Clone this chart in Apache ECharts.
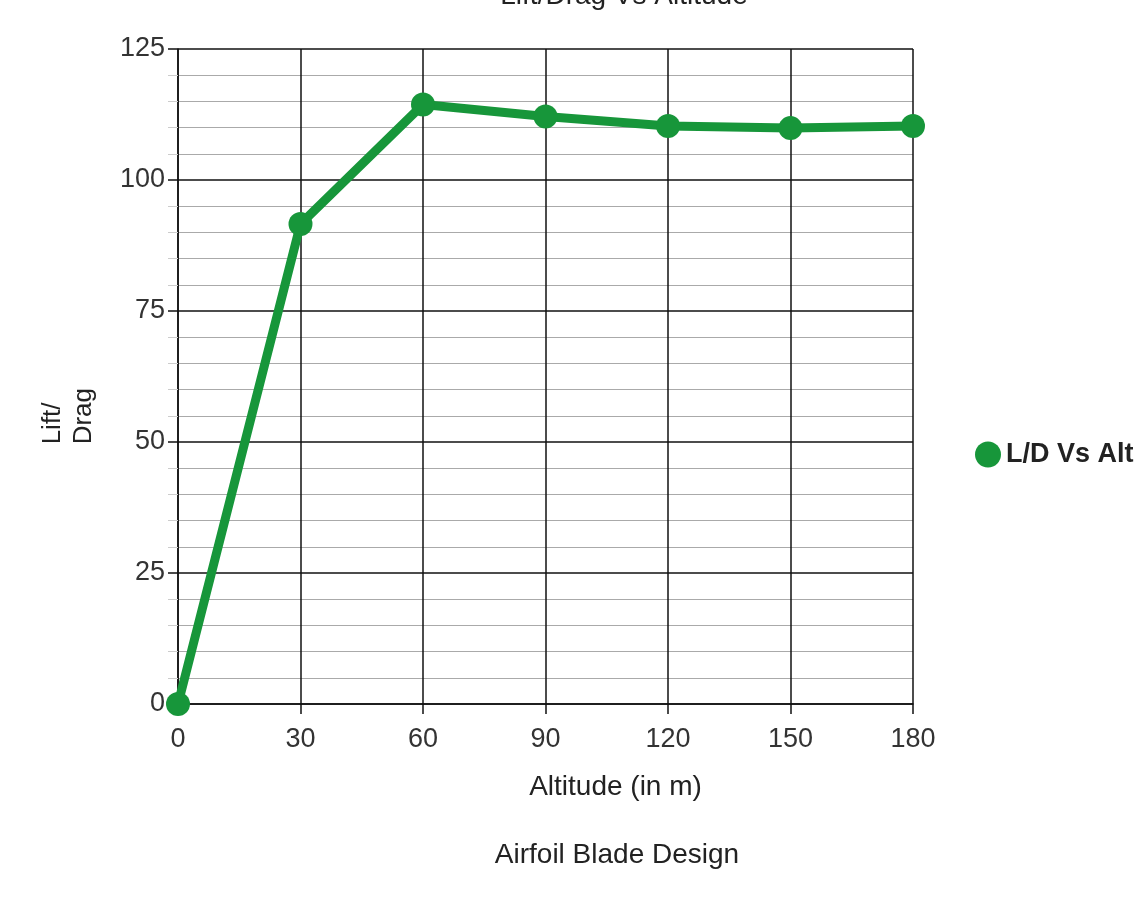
<!DOCTYPE html>
<html>
<head>
<meta charset="utf-8">
<script src="https://cdn.jsdelivr.net/npm/echarts@6/dist/echarts.min.js"></script>
<style>html,body{margin:0;padding:0;background:#fff;}#c{width:1136px;height:897px;}</style>
</head>
<body>
<div id="c"></div>
<script>
const altitudes = [0, 30, 60, 90, 120, 150, 180];
const liftDrag = [0, 91.6, 114.4, 112.1, 110.3, 109.9, 110.3];
const seriesName = 'L/D Vs Alt';
const chartTitle = 'Lift/Drag Vs Altitude';
const subTitle = 'Airfoil Blade Design';
const xName = 'Altitude (in m)';
const yName = 'Lift/\nDrag';

const FONT = 'Liberation Sans, Arial, sans-serif';
const green = '#17963a';
const chart = echarts.init(document.getElementById('c'));
chart.setOption({
  backgroundColor: '#fff',
  animation: false,
  title: [
    { text: chartTitle, left: 619, top: -23, textAlign: 'center',
      textStyle: { fontFamily: FONT, fontSize: 28, fontWeight: 'normal', color: '#222' } },
    { text: subTitle, left: 612, top: 836, textAlign: 'center',
      textStyle: { fontFamily: FONT, fontSize: 28, fontWeight: 'normal', color: '#222' } }
  ],
  legend: {
    data: [{ name: seriesName, icon: 'circle' }],
    left: 970, top: 436, itemWidth: 26, itemHeight: 26, itemGap: 6,
    textStyle: { fontFamily: FONT, fontSize: 27, fontWeight: 'bold', color: '#222' }
  },
  graphic: [{
    type: 'text', left: 37, top: 388, rotation: Math.PI / 2,
    style: { text: yName, font: 'normal 26px Liberation Sans, Arial, sans-serif', fill: '#222',
      textAlign: 'left', lineHeight: 31 }
  }],
  grid: { left: 178, right: 223, top: 49, bottom: 193, containLabel: false },
  xAxis: {
    type: 'value', min: 0, max: 180, interval: 30,
    name: xName, nameLocation: 'middle', nameGap: 69,
    nameTextStyle: { fontFamily: FONT, fontSize: 28, color: '#222', padding: [0, 0, 0, 140] },
    axisLine: { show: true, lineStyle: { color: '#111', width: 1.5 } },
    axisTick: { show: true, length: 10, lineStyle: { color: '#111', width: 1.5 } },
    axisLabel: { fontFamily: FONT, fontSize: 27, color: '#333', margin: 22 },
    splitLine: { show: true, lineStyle: { color: '#111', width: 1.5 } }
  },
  yAxis: {
    type: 'value', min: 0, max: 125, interval: 25,
    axisLine: { show: true, lineStyle: { color: '#111', width: 1.5 } },
    axisTick: { show: true, length: 10, lineStyle: { color: '#111', width: 1.5 } },
    minorTick: { show: true, splitNumber: 5, length: 10, lineStyle: { color: '#ccc', width: 1 } },
    axisLabel: { fontFamily: FONT, fontSize: 27, color: '#333', margin: 13 },
    splitLine: { show: true, lineStyle: { color: '#111', width: 1.5 } },
    minorSplitLine: { show: true, lineStyle: { color: '#aaa', width: 1 } }
  },
  series: [{
    name: seriesName, type: 'line',
    data: altitudes.map((a, i) => [a, liftDrag[i]]),
    symbol: 'circle', symbolSize: 24,
    lineStyle: { color: green, width: 9 },
    itemStyle: { color: green },
    clip: false, z: 5
  }]
});
</script>
</body>
</html>
